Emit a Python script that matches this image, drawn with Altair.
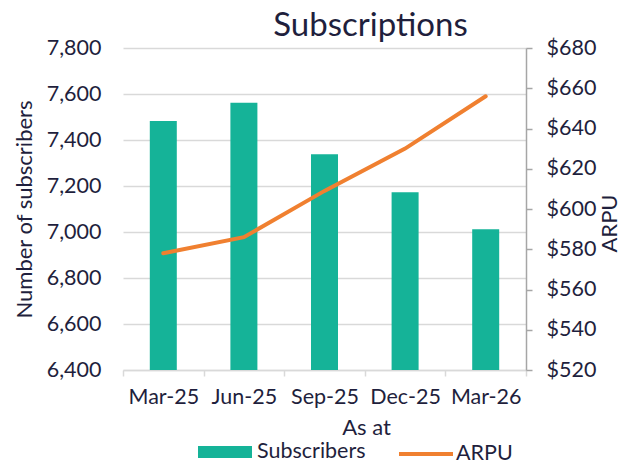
import altair as alt
import pandas as pd

periods = ["Mar-25", "Jun-25", "Sep-25", "Dec-25", "Mar-26"]
subscribers = [7483, 7562, 7338, 7173, 7012]
arpu = [578, 586, 609, 630, 656]

left_ticks = [6400, 6600, 6800, 7000, 7200, 7400, 7600, 7800]
right_ticks = [520, 540, 560, 580, 600, 620, 640, 660, 680]

df = pd.DataFrame({"period": periods, "subscribers": subscribers, "arpu": arpu})

FONT = "Lato"
TXT = "#1f1f3d"
TEAL = "#15b398"
ORANGE = "#f08030"
GRID = "#d9d9d9"
FS = 21.5
TFS = 22
LFS = 21.5

x = alt.X(
    "period:N", sort=periods, title="As at",
    scale=alt.Scale(paddingInner=0, paddingOuter=0),
    axis=alt.Axis(
        labelAngle=0, tickBand="extent", domainColor=GRID, tickColor=GRID,
        tickSize=6, tickWidth=1.5, domainWidth=1.5, labelFontSize=FS, labelPadding=10,
        titleFontSize=TFS, titlePadding=10, titleX=243, titleFontWeight="normal",
    ),
)

bars = alt.Chart(df).transform_calculate(series="'Subscribers'").mark_bar(
    width=alt.RelativeBandSize(0.335), clip=True
).encode(
    x=x,
    y=alt.Y(
        "subscribers:Q", title="Number of subscribers",
        scale=alt.Scale(domain=[6400, 7800], zero=False, nice=False),
        axis=alt.Axis(
            values=left_ticks, format=",.0f", grid=True, gridColor=GRID, gridWidth=1.5,
            domain=False, ticks=False, labelFontSize=FS, labelPadding=22,
            titleFontSize=TFS, titlePadding=10, titleFontWeight="normal",
        ),
    ),
    fill=alt.Fill(
        "series:N",
        scale=alt.Scale(domain=["Subscribers"], range=[TEAL]),
        legend=alt.Legend(
            title=None, orient="none", legendX=75, legendY=377, padding=0,
            symbolType="M-1,-0.22H1V0.22H-1Z", symbolSize=2916,
            symbolStrokeWidth=0, labelFontSize=LFS, labelOffset=5,
        ),
    ),
)

line = alt.Chart(df).transform_calculate(series="'ARPU'").mark_line(
    strokeWidth=4, strokeCap="round"
).encode(
    x=x,
    y=alt.Y(
        "arpu:Q", title="ARPU",
        scale=alt.Scale(domain=[520, 680], zero=False, nice=False),
        axis=alt.Axis(
            orient="right", values=right_ticks, format="$.0f", grid=False,
            domainColor="#a6a6a6", tickColor="#a6a6a6", domainWidth=1.5, tickWidth=1.5,
            tickSize=6, labelFontSize=FS, labelPadding=14,
            titleFontSize=TFS, titleAngle=270, titleX=83, titleY=175,
            titleBaseline="middle", titleAlign="center",
            titleFontWeight="normal",
        ),
    ),
    stroke=alt.Stroke(
        "series:N",
        scale=alt.Scale(domain=["ARPU"], range=[ORANGE]),
        legend=alt.Legend(
            title=None, orient="none", legendX=274, legendY=377, padding=0,
            symbolType="stroke", symbolSize=2916, symbolStrokeWidth=4,
            labelFontSize=LFS, labelOffset=1,
        ),
    ),
)

chart = alt.layer(bars, line).resolve_scale(y="independent").properties(
    width=403, height=322,
    autosize=alt.AutoSizeParams(type="none"),
    padding={"left": 115, "top": 40, "right": 92, "bottom": 90},
    title=alt.Title("Subscriptions", fontSize=33, font=FONT, color=TXT,
                    fontWeight="normal", anchor="middle", dx=46, dy=14, offset=8),
).configure(font=FONT).configure_axis(
    labelColor=TXT, titleColor=TXT, labelFont=FONT, titleFont=FONT
).configure_legend(
    labelColor=TXT, labelFont=FONT
).configure_view(stroke=None)

chart.save("out.html", embed_options={"renderer": "svg", "actions": False})
